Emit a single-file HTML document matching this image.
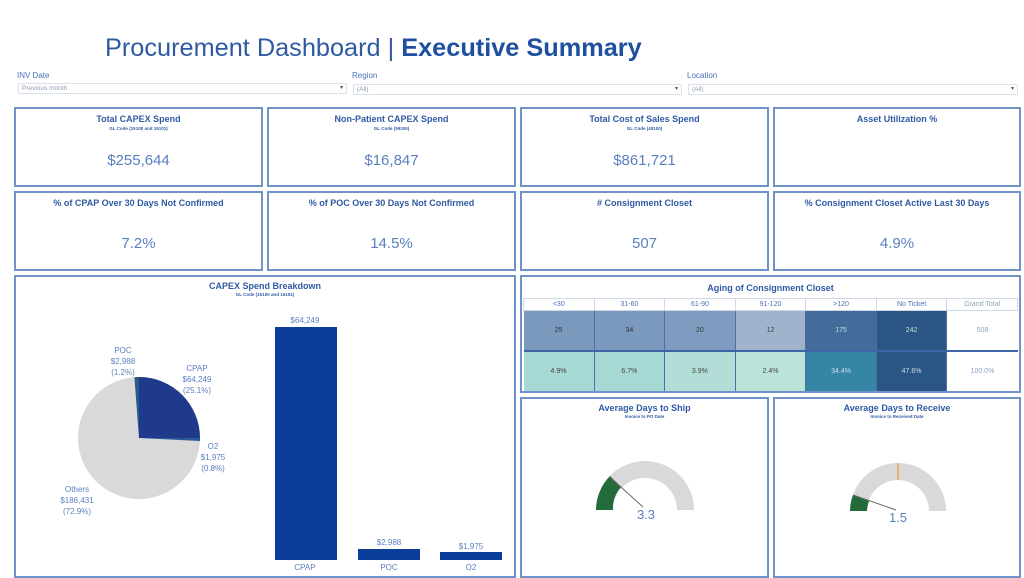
<!DOCTYPE html>
<html><head><meta charset="utf-8"><style>
*{margin:0;padding:0;box-sizing:border-box}
body{width:1024px;height:576px;background:#fff;font-family:"Liberation Sans",sans-serif;position:relative;overflow:hidden;color:#4a72b8}
.a{position:absolute}
.box{position:absolute;border:2px solid #6f92c9;background:#fff}
.kt{position:absolute;left:0;right:0;top:5px;text-align:center;font-weight:bold;font-size:9px;color:#2f5aa3}
.ks{position:absolute;left:0;right:0;top:17px;text-align:center;font-size:4.5px;font-weight:bold;color:#2f5aa3}
.kv{position:absolute;left:0;right:0;top:43px;text-align:center;font-size:15px;color:#5a7fbf}
.fl{position:absolute;font-size:8px;color:#4a72b8}
.dd{position:absolute;height:11px;border:1px solid #dde2ea;font-size:6.5px;color:#8a9ab5;padding-left:3px;line-height:9px}
.dd:after{content:"▾";position:absolute;right:3px;top:0;font-size:6px;color:#555}
table{border-collapse:collapse;table-layout:fixed}
td{text-align:center;font-size:7px;padding:0;border-right:1px solid #4f6f9f}
</style></head><body>
<div class="a" style="left:105px;top:34px;font-size:25.3px;color:#2f5aa3;white-space:nowrap">Procurement Dashboard | <b style="color:#1f4fa0">Executive Summary</b></div>
<div class="fl" style="left:17px;top:71px">INV Date</div>
<div class="dd" style="left:18px;top:83px;width:329px">Previous month</div>
<div class="fl" style="left:352px;top:71px">Region</div>
<div class="dd" style="left:353px;top:84px;width:329px">(All)</div>
<div class="fl" style="left:687px;top:71px">Location</div>
<div class="dd" style="left:688px;top:84px;width:330px">(All)</div>

<div class="box" style="left:14px;top:107px;width:249px;height:80px"><div class="kt">Total CAPEX Spend</div><div class="ks">GL Code (15100 and 15101)</div><div class="kv">$255,644</div></div>
<div class="box" style="left:267px;top:107px;width:249px;height:80px"><div class="kt">Non-Patient CAPEX Spend</div><div class="ks">GL Code (59200)</div><div class="kv">$16,847</div></div>
<div class="box" style="left:520px;top:107px;width:249px;height:80px"><div class="kt">Total Cost of Sales Spend</div><div class="ks">GL Code (40100)</div><div class="kv">$861,721</div></div>
<div class="box" style="left:773px;top:107px;width:248px;height:80px"><div class="kt">Asset Utilization %</div></div>

<div class="box" style="left:14px;top:191px;width:249px;height:80px"><div class="kt">% of CPAP Over 30 Days Not Confirmed</div><div class="kv" style="top:42px">7.2%</div></div>
<div class="box" style="left:267px;top:191px;width:249px;height:80px"><div class="kt">% of POC Over 30 Days Not Confirmed</div><div class="kv" style="top:42px">14.5%</div></div>
<div class="box" style="left:520px;top:191px;width:249px;height:80px"><div class="kt"># Consignment Closet</div><div class="kv" style="top:42px">507</div></div>
<div class="box" style="left:773px;top:191px;width:248px;height:80px"><div class="kt">% Consignment Closet Active Last 30 Days</div><div class="kv" style="top:42px">4.9%</div></div>

<div class="box" style="left:14px;top:275px;width:502px;height:303px">
<div class="kt" style="top:4px">CAPEX Spend Breakdown</div><div class="ks" style="top:15px">GL Code (15100 and 15101)</div>
</div>
<svg class="a" style="left:0;top:0" width="1024" height="576">
<circle cx="139" cy="438" r="61" fill="#d9d9d9"/>
<path d="M139 438 L139 377 A61 61 0 0 1 200 438 Z" fill="#1f3a8a"/>
<path d="M139 438 L200 438 A61 61 0 0 1 200 441 Z" fill="#2a5a9a"/>
<path d="M139 438 L134.4 377.2 A61 61 0 0 1 139 377 Z" fill="#2a5a8a"/>
<g font-size="8" fill="#5a7fbf" text-anchor="middle" font-family="Liberation Sans">
<text x="123" y="353">POC</text><text x="123" y="364">$2,988</text><text x="123" y="375">(1.2%)</text>
<text x="197" y="371">CPAP</text><text x="197" y="382">$64,249</text><text x="197" y="393">(25.1%)</text>
<text x="213" y="449">O2</text><text x="213" y="460">$1,975</text><text x="213" y="471">(0.8%)</text>
<text x="77" y="492">Others</text><text x="77" y="503">$186,431</text><text x="77" y="514">(72.9%)</text>
<text x="305" y="323">$64,249</text><text x="389" y="545">$2,988</text><text x="471" y="549">$1,975</text>
<text x="305" y="570">CPAP</text><text x="389" y="570">POC</text><text x="471" y="570">O2</text>
</g>
<rect x="275" y="327" width="62" height="233" fill="#0b3d9a"/>
<rect x="358" y="549" width="62" height="11" fill="#0b3d9a"/>
<rect x="440" y="552" width="62" height="8" fill="#0b3d9a"/>
</svg>

<div class="box" style="left:520px;top:275px;width:501px;height:118px">
<div class="kt" style="top:6px">Aging of Consignment Closet</div>
<table class="a" style="left:1px;top:21px;width:495px">
<tr style="height:12px;color:#4a72b8"><td style="border:1px solid #cfd8e6">&lt;30</td><td style="border:1px solid #cfd8e6">31-60</td><td style="border:1px solid #cfd8e6">61-90</td><td style="border:1px solid #cfd8e6">91-120</td><td style="border:1px solid #cfd8e6">&gt;120</td><td style="border:1px solid #cfd8e6">No Ticket</td><td style="border:1px solid #cfd8e6;color:#8aa">Grand Total</td></tr>
<tr style="height:40px"><td style="background:#7b98bd;color:#333">25</td><td style="background:#7b98bd;color:#333">34</td><td style="background:#7f9cc0;color:#333">20</td><td style="background:#a0b3cc;color:#444">12</td><td style="background:#436c9a;color:#cdd">175</td><td style="background:#2b5585;color:#cdd">242</td><td style="color:#8aa3c8;border-right:none">508</td></tr>
<tr style="height:40px;border-top:2px solid #3d65a8"><td style="background:#a6d9d4;color:#444">4.9%</td><td style="background:#a6d9d4;color:#444">6.7%</td><td style="background:#b1ddd6;color:#444">3.9%</td><td style="background:#bce3d9;color:#444">2.4%</td><td style="background:#3585a5;color:#cde">34.4%</td><td style="background:#2b5585;color:#cde">47.6%</td><td style="color:#8aa3c8;border-right:none">100.0%</td></tr>
</table>
</div>

<div class="box" style="left:520px;top:397px;width:249px;height:181px"><div class="kt" style="top:4px">Average Days to Ship</div><div class="ks" style="top:15px">Invoice to PO Date</div></div>
<div class="box" style="left:773px;top:397px;width:248px;height:181px"><div class="kt" style="top:4px">Average Days to Receive</div><div class="ks" style="top:15px">Invoice to Received Date</div></div>
<svg class="a" style="left:0;top:0" width="1024" height="576">
<path d="M596 510 A49 49 0 0 1 694 510 L677 510 A32 32 0 0 0 613 510 Z" fill="#d9d9d9"/>
<path d="M596 510 A49 49 0 0 1 610 476 L621 487 A32 32 0 0 0 613 510 Z" fill="#236b3a"/>
<line x1="611" y1="478" x2="643" y2="507" stroke="#666" stroke-width="1"/>
<text x="646" y="519" font-size="13" fill="#5a7fbf" text-anchor="middle" font-family="Liberation Sans">3.3</text>
<path d="M850 511 A48 48 0 0 1 946 511 L929 511 A31 31 0 0 0 867 511 Z" fill="#d9d9d9"/>
<path d="M850 511 A48 48 0 0 1 853 495 L869 501 A31 31 0 0 0 867 511 Z" fill="#236b3a"/>
<rect x="897" y="463" width="2" height="17" fill="#f0b070"/>
<line x1="853" y1="495" x2="896" y2="510" stroke="#666" stroke-width="1"/>
<text x="898" y="522" font-size="13" fill="#5a7fbf" text-anchor="middle" font-family="Liberation Sans">1.5</text>
</svg>
</body></html>
